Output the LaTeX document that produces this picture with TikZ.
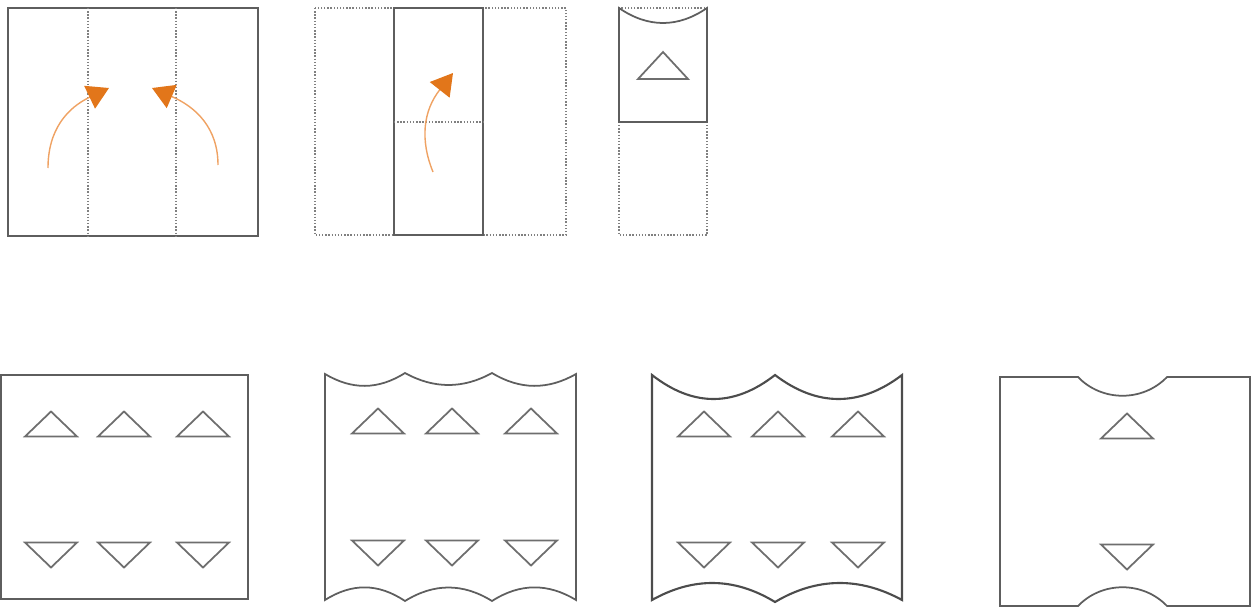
\documentclass[tikz,border=0pt]{standalone}
\usepackage{tikz}
\usetikzlibrary{arrows.meta}
\definecolor{edgegray}{HTML}{5E5E5E}
\definecolor{markgray}{HTML}{6E6E6E}
\definecolor{tipor}{HTML}{E2761A}
\definecolor{arcor}{HTML}{EFA263}
\newcommand{\triup}[2]{\draw[notch] (#1-26,#2+12.5) -- (#1+26,#2+12.5) -- (#1,#2-12.5) -- cycle;}
\newcommand{\tridown}[2]{\draw[notch] (#1-26,#2-12.5) -- (#1+26,#2-12.5) -- (#1,#2+12.5) -- cycle;}

\begin{document}
\begin{tikzpicture}[
  x=0.02cm, y=-0.02cm,
  sheet/.style={draw=edgegray, line width=1pt, line join=miter},
  heavy/.style={sheet, draw=black!70, line width=1.2pt},
  crease/.style={draw=gray, line width=0.8pt, densely dotted},
  ghost/.style={crease},
  notch/.style={draw=markgray, line width=1pt, line join=miter},
  fold/.style={draw=arcor, line width=0.8pt,
               -{Triangle[length=4.3mm, width=5mm, color=tipor]}}
]
\useasboundingbox (0,0) rectangle (1260,608);

% step 1
\draw[sheet] (8,8) rectangle (258,236);
\draw[crease] (88,8) -- (88,236);
\draw[crease] (176,8) -- (176,236);
\coordinate (l0) at (48,168);
\coordinate (l1) at (109,88);
\coordinate (r0) at (218,165);
\coordinate (r1) at (152,88);
\draw[fold] (l0) .. controls (48,130) and (67,108) .. (l1);
\draw[fold] (r0) .. controls (218,128) and (196,107) .. (r1);

% step 2
\draw[ghost] (315,8) rectangle (566,235);
\draw[sheet, line width=1.2pt] (394,8) rectangle (483,235);
\draw[crease] (394,122) -- (483,122);
\coordinate (m0) at (433,172);
\coordinate (m1) at (453,73);
\draw[fold] (m0) .. controls (420,140) and (423,111) .. (m1);

% step 3
\draw[ghost] (619,8) rectangle (707,235);
\draw[sheet] (619,8) .. controls (648,28) and (678,28) .. (707,8)
  -- (707,122) -- (619,122) -- cycle;
\draw[notch] (638,79) -- (688,79) -- (663,52) -- cycle;

% step 4
\draw[sheet] (1,375) rectangle (248,599);
\foreach \cx in {51,124,203} {
  \triup{\cx}{424}
  \tridown{\cx}{555}
}

% step 5
\draw[sheet] (325,374) .. controls (352,390) and (378,390) .. (405,373)
  .. controls (434,389) and (463,389) .. (492,373)
  .. controls (520,390) and (548,390) .. (576,374)
  -- (576,600) .. controls (548,583) and (520,583) .. (492,601)
  .. controls (463,583) and (434,583) .. (405,601)
  .. controls (378,583) and (352,583) .. (325,600) -- cycle;
\foreach \cx in {378,452,531} {
  \triup{\cx}{421}
  \tridown{\cx}{553}
}

% step 6
\draw[heavy] (652,375) .. controls (693,407) and (734,407) .. (775,375)
  .. controls (817,407) and (860,407) .. (902,375)
  -- (902,600) .. controls (860,577) and (817,577) .. (775,602)
  .. controls (734,577) and (693,577) .. (652,600) -- cycle;
\foreach \cx in {704,778,858} {
  \triup{\cx}{424}
  \tridown{\cx}{555}
}

% step 7
\draw[sheet] (1000,377) -- (1078,377) .. controls (1102,402) and (1143,402) .. (1167,377)
  -- (1250,377) -- (1250,606) -- (1167,606)
  .. controls (1143,581) and (1102,581) .. (1078,606) -- (1000,606) -- cycle;
\triup{1127}{426}
\tridown{1127}{557}
\end{tikzpicture}
\end{document}
